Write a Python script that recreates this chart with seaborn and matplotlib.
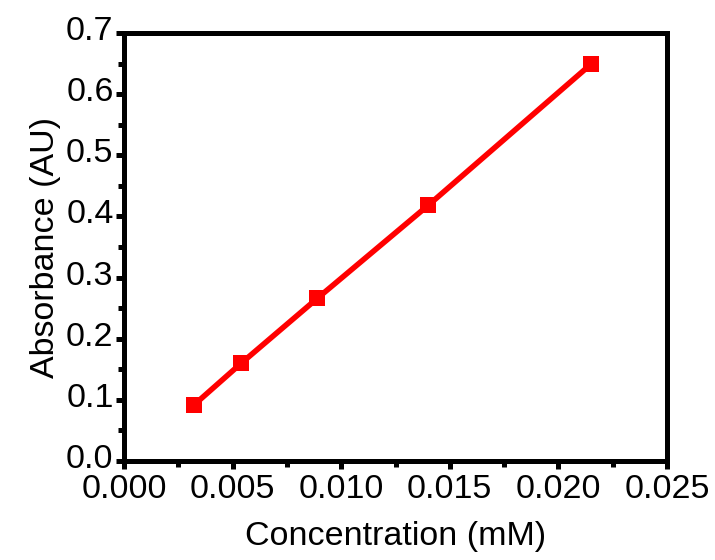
import matplotlib
matplotlib.use("Agg")
import matplotlib.pyplot as plt
import matplotlib.transforms as mtransforms
import seaborn as sns
import pandas as pd
from matplotlib.ticker import MultipleLocator, FormatStrFormatter

concentration = [0.0032, 0.0054, 0.0089, 0.0140, 0.0215]
absorbance = [0.091, 0.160, 0.266, 0.418, 0.649]

sns.set_style("ticks")
plt.rcParams['font.family'] = ['Liberation Sans', 'DejaVu Sans']
plt.rcParams['text.color'] = 'black'
plt.rcParams['axes.labelcolor'] = 'black'
plt.rcParams['xtick.color'] = 'black'
plt.rcParams['ytick.color'] = 'black'

df = pd.DataFrame({"Concentration (mM)": concentration, "Absorbance (AU)": absorbance})

fig = plt.figure(figsize=(7.15, 5.6), dpi=100)
ax = fig.add_axes([124/715, 1-461/560, (667-124)/715, (461-33)/560])
sns.lineplot(data=df, x="Concentration (mM)", y="Absorbance (AU)", ax=ax,
             color="#ff0000", linewidth=4, marker="s", markersize=12,
             markeredgewidth=0)

ax.set_xlim(0, 0.025)
ax.set_ylim(0, 0.7)
ax.xaxis.set_major_locator(MultipleLocator(0.005))
ax.xaxis.set_minor_locator(MultipleLocator(0.0025))
ax.yaxis.set_major_locator(MultipleLocator(0.1))
ax.yaxis.set_minor_locator(MultipleLocator(0.05))
ax.xaxis.set_major_formatter(FormatStrFormatter('%.3f'))
ax.yaxis.set_major_formatter(FormatStrFormatter('%.1f'))

for s in ax.spines.values():
    s.set_linewidth(3.6)
    s.set_color("black")
    s.set_visible(True)
ax.tick_params(which="major", direction="out", length=6, width=3.6,
               labelsize=24.5, colors="black")
ax.tick_params(axis="x", which="major", pad=3)
ax.tick_params(axis="y", which="major", pad=1.5)
ax.tick_params(which="minor", direction="out", length=4, width=3.6, colors="black")
ax.set_xlabel("Concentration (mM)", fontsize=24.5, labelpad=12, color="black")
ax.set_ylabel("Absorbance (AU)", fontsize=24.5, labelpad=4, color="black")

offset = mtransforms.ScaledTranslation(0, 5/100, fig.dpi_scale_trans)
for lbl in ax.get_yticklabels():
    lbl.set_transform(lbl.get_transform() + offset)

fig.savefig("out.png", dpi=100)
